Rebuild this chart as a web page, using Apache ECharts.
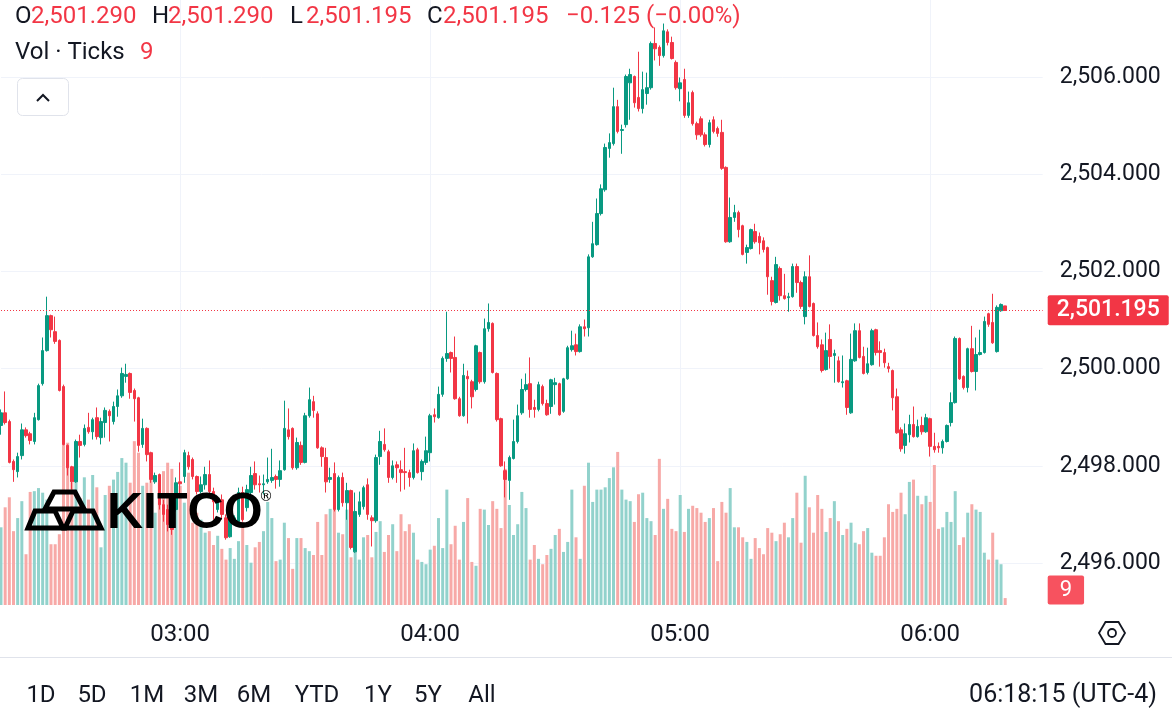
<!DOCTYPE html>
<html>
<head>
<meta charset="utf-8">
<script src="https://cdn.jsdelivr.net/npm/echarts@6/dist/echarts.min.js"></script>
<style>
html, body { margin: 0; padding: 0; background: #fff; }
#chart { width: 1172px; height: 725px; }
</style>
</head>
<body>
<div id="chart"></div>
<script>
// Gold spot, 1 minute candles, 02:17 -> 06:18 (UTC-4)
var startTime = '02:17';
var rightPad = 9; // empty minutes to the right of the last candle

var opens = [
  2498.83, 2499.09, 2498.91, 2498.09, 2497.88, 2498.21, 2498.74, 2498.66, 2498.50, 2498.95, 2499.69, 2500.37, 2501.09, 2500.76, 2500.58, 2499.63, 2498.42, 2497.98, 2497.67, 2498.50, 2498.44, 2498.79, 2498.70, 2498.99,
  2498.58, 2498.89, 2499.12, 2498.91, 2499.22, 2499.44, 2499.84, 2499.90, 2499.55, 2499.40, 2498.44, 2498.77, 2498.27, 2497.67, 2497.82, 2497.20, 2497.10, 2497.00, 2497.10, 2497.67, 2497.78, 2498.21, 2498.13, 2497.78,
  2497.47, 2497.61, 2497.82, 2497.47, 2497.10, 2497.30, 2496.93, 2496.54, 2496.85, 2496.85, 2497.45, 2497.14, 2497.45, 2497.84, 2497.63, 2497.61, 2497.67, 2497.70, 2497.78, 2497.72, 2497.92, 2498.74, 2498.77, 2497.96,
  2498.42, 2498.07, 2499.03, 2499.32, 2499.07, 2498.37, 2498.17, 2497.72, 2497.84, 2497.10, 2497.76, 2497.24, 2497.49, 2496.23, 2497.00, 2497.16, 2497.61, 2496.93, 2496.87, 2498.19, 2498.44, 2498.29, 2497.76, 2498.02,
  2497.92, 2497.88, 2497.86, 2497.76, 2498.33, 2497.88, 2498.07, 2498.27, 2499.05, 2498.99, 2499.47, 2500.21, 2500.33, 2500.23, 2499.38, 2499.03, 2499.84, 2499.73, 2499.57, 2500.33, 2499.73, 2500.82, 2500.93, 2499.90,
  2498.97, 2497.90, 2497.70, 2498.15, 2498.50, 2499.09, 2499.57, 2499.69, 2499.20, 2499.16, 2499.63, 2499.28, 2499.22, 2499.67, 2499.69, 2499.12, 2499.79, 2500.39, 2500.49, 2500.35, 2500.86, 2500.84, 2502.30, 2502.55, 2503.19,
  2503.68, 2504.53, 2504.63, 2505.39, 2504.90, 2505.02, 2505.88, 2506.01, 2505.58, 2505.35, 2505.66, 2505.78, 2506.69, 2506.61, 2506.44, 2506.93, 2506.71, 2506.30, 2505.76, 2505.95, 2505.21, 2505.68, 2505.04,
  2505.14, 2504.81, 2504.61, 2505.12, 2504.94, 2504.86, 2504.14, 2502.61, 2503.11, 2503.21, 2502.94, 2502.39, 2502.47, 2502.82, 2502.72, 2502.63, 2502.49, 2501.81, 2501.36, 2502.06, 2501.50, 2501.46, 2501.48, 2502.10,
  2501.77, 2501.07, 2501.89, 2501.34, 2500.68, 2500.49, 2499.98, 2500.60, 2500.27, 2500.16, 2499.71, 2499.75, 2499.09, 2500.16, 2500.78, 2500.25, 2499.92, 2500.08, 2500.80, 2500.37, 2500.33, 2500.04, 2499.96, 2499.42,
  2498.74, 2498.42, 2498.64, 2498.85, 2498.60, 2498.83, 2498.70, 2498.97, 2498.40, 2498.40, 2498.37, 2498.50, 2498.89, 2499.30, 2500.62, 2499.84, 2499.61, 2500.41, 2499.94, 2500.29, 2500.33, 2501.13, 2500.95, 2500.35, 2501.19, 2501.290
];
var closes = [
  2499.09, 2498.89, 2498.07, 2497.92, 2498.19, 2498.74, 2498.62, 2498.52, 2498.99, 2499.65, 2500.37, 2501.09, 2500.80, 2500.56, 2499.55, 2498.44, 2497.96, 2497.67, 2498.50, 2498.42, 2498.77, 2498.70, 2498.95, 2498.60,
  2498.91, 2499.14, 2499.03, 2499.22, 2499.44, 2499.90, 2499.88, 2499.51, 2499.38, 2498.42, 2498.77, 2498.23, 2497.72, 2497.80, 2497.20, 2497.00, 2496.79, 2496.69, 2497.65, 2497.63, 2498.27, 2497.98, 2497.78, 2497.47,
  2497.61, 2497.82, 2497.47, 2497.26, 2497.30, 2497.00, 2496.52, 2496.93, 2496.93, 2497.45, 2496.89, 2497.51, 2497.80, 2497.61, 2497.61, 2497.63, 2497.72, 2497.76, 2497.72, 2497.90, 2498.77, 2498.60, 2497.96, 2498.48,
  2498.07, 2499.03, 2499.36, 2499.14, 2498.37, 2498.19, 2497.67, 2497.76, 2497.10, 2497.76, 2497.24, 2497.49, 2496.32, 2497.06, 2497.26, 2497.55, 2497.00, 2496.87, 2498.17, 2498.50, 2498.33, 2497.76, 2498.00, 2497.96,
  2497.86, 2497.86, 2497.76, 2498.31, 2497.86, 2498.09, 2498.31, 2499.03, 2499.01, 2499.47, 2500.21, 2500.31, 2500.21, 2499.38, 2499.03, 2499.86, 2499.79, 2499.42, 2500.47, 2499.73, 2500.82, 2500.95, 2499.92, 2498.95,
  2498.00, 2497.72, 2498.17, 2498.50, 2499.03, 2499.57, 2499.67, 2499.16, 2499.16, 2499.67, 2499.28, 2499.05, 2499.77, 2499.71, 2499.05, 2499.79, 2500.43, 2500.47, 2500.35, 2500.86, 2500.82, 2502.30, 2502.57, 2503.19, 2503.70,
  2504.55, 2504.65, 2505.39, 2504.88, 2504.92, 2506.01, 2506.05, 2505.47, 2505.35, 2505.74, 2505.78, 2506.69, 2506.58, 2506.44, 2506.95, 2506.71, 2506.38, 2505.78, 2505.88, 2505.21, 2505.47, 2505.04, 2504.81,
  2504.81, 2504.61, 2505.06, 2504.88, 2504.84, 2504.12, 2502.61, 2503.11, 2503.21, 2502.86, 2502.35, 2502.49, 2502.86, 2502.61, 2502.59, 2502.45, 2501.89, 2501.38, 2502.14, 2501.50, 2501.44, 2501.48, 2502.10, 2501.77,
  2501.28, 2501.89, 2501.28, 2500.68, 2500.45, 2499.96, 2500.37, 2500.25, 2500.31, 2499.73, 2499.73, 2499.20, 2500.19, 2500.78, 2500.23, 2499.90, 2500.10, 2500.78, 2500.33, 2500.33, 2500.12, 2500.00, 2499.40, 2498.68,
  2498.35, 2498.66, 2498.85, 2498.60, 2498.81, 2498.70, 2498.99, 2498.40, 2498.33, 2498.37, 2498.50, 2498.83, 2499.30, 2500.62, 2499.79, 2499.61, 2500.41, 2499.94, 2500.29, 2500.33, 2500.97, 2500.91, 2500.53, 2501.26, 2501.32, 2501.195
];
var lows = [
  2498.64, 2498.85, 2498.05, 2497.67, 2497.76, 2498.13, 2498.58, 2498.44, 2498.44, 2498.93, 2499.65, 2500.35, 2500.64, 2500.51, 2499.53, 2498.42, 2497.80, 2497.51, 2497.65, 2498.17, 2498.40, 2498.66, 2498.54, 2498.54,
  2498.44, 2498.58, 2498.50, 2498.85, 2499.01, 2499.40, 2499.71, 2499.38, 2498.91, 2498.29, 2498.37, 2498.09, 2497.65, 2497.63, 2497.10, 2496.85, 2496.65, 2496.58, 2497.06, 2497.37, 2497.65, 2497.92, 2497.72, 2497.41,
  2497.43, 2497.51, 2497.37, 2496.89, 2497.04, 2496.89, 2496.48, 2496.52, 2496.79, 2496.81, 2496.85, 2497.06, 2497.41, 2497.51, 2497.45, 2497.41, 2497.63, 2497.65, 2497.53, 2497.57, 2497.90, 2498.54, 2497.92, 2497.92,
  2498.02, 2498.05, 2498.99, 2498.99, 2498.35, 2497.98, 2497.45, 2497.65, 2497.06, 2497.06, 2497.16, 2496.89, 2496.28, 2496.21, 2496.95, 2497.10, 2496.89, 2496.34, 2496.83, 2498.02, 2498.29, 2497.65, 2497.72, 2497.65,
  2497.47, 2497.51, 2497.57, 2497.72, 2497.84, 2497.70, 2498.02, 2498.09, 2498.89, 2498.97, 2499.42, 2500.14, 2499.92, 2499.36, 2499.01, 2499.01, 2498.87, 2499.18, 2499.53, 2499.69, 2499.69, 2500.76, 2499.90, 2498.91,
  2497.98, 2497.35, 2497.30, 2498.13, 2498.46, 2499.05, 2499.53, 2498.99, 2498.99, 2499.12, 2499.24, 2499.03, 2499.07, 2499.26, 2499.03, 2499.09, 2499.77, 2500.35, 2500.27, 2500.33, 2500.66, 2500.66, 2502.28, 2502.53, 2503.15,
  2503.64, 2504.34, 2504.59, 2504.84, 2504.42, 2504.96, 2505.12, 2505.37, 2505.29, 2505.25, 2505.43, 2505.74, 2506.34, 2506.23, 2506.40, 2506.65, 2506.36, 2505.74, 2505.50, 2505.16, 2505.16, 2505.00, 2504.71,
  2504.77, 2504.57, 2504.55, 2504.84, 2504.77, 2504.09, 2502.59, 2502.59, 2503.02, 2502.70, 2502.33, 2502.16, 2502.45, 2502.57, 2502.35, 2502.39, 2501.52, 2501.30, 2501.34, 2501.40, 2501.42, 2501.17, 2501.46, 2501.56,
  2501.23, 2500.91, 2501.26, 2500.66, 2500.41, 2499.92, 2499.96, 2500.00, 2499.71, 2499.71, 2499.61, 2499.05, 2499.07, 2500.14, 2500.21, 2499.88, 2499.88, 2500.06, 2500.27, 2500.04, 2500.02, 2499.92, 2499.14, 2498.66,
  2498.29, 2498.25, 2498.48, 2498.58, 2498.58, 2498.64, 2498.68, 2498.19, 2498.27, 2498.27, 2498.25, 2498.48, 2498.81, 2499.28, 2499.77, 2499.57, 2499.51, 2499.92, 2499.55, 2500.27, 2500.31, 2500.86, 2500.51, 2500.33, 2501.17, 2501.195
];
var highs = [
  2499.16, 2499.53, 2498.95, 2498.13, 2498.27, 2498.87, 2498.79, 2498.70, 2499.09, 2499.69, 2500.64, 2501.48, 2501.11, 2501.07, 2500.60, 2499.67, 2498.44, 2498.00, 2498.54, 2498.64, 2498.85, 2499.09, 2498.99, 2499.20,
  2498.99, 2499.20, 2499.16, 2499.32, 2499.57, 2500.02, 2500.10, 2499.92, 2499.59, 2499.42, 2498.97, 2498.79, 2498.29, 2497.86, 2497.84, 2497.30, 2497.20, 2497.14, 2497.76, 2498.07, 2498.33, 2498.29, 2498.17, 2497.80,
  2497.78, 2497.98, 2498.11, 2497.55, 2497.37, 2497.41, 2497.00, 2496.98, 2496.98, 2497.55, 2497.57, 2497.61, 2497.98, 2498.09, 2497.80, 2497.82, 2498.17, 2498.35, 2497.82, 2498.11, 2499.34, 2499.18, 2498.79, 2498.58,
  2498.50, 2499.09, 2499.61, 2499.44, 2499.12, 2498.40, 2498.37, 2497.96, 2498.07, 2497.80, 2497.86, 2497.65, 2497.51, 2497.45, 2497.47, 2497.59, 2497.74, 2496.98, 2498.23, 2498.72, 2498.77, 2498.33, 2498.11, 2498.09,
  2498.11, 2498.37, 2497.92, 2498.46, 2498.37, 2498.13, 2498.60, 2499.07, 2499.18, 2499.63, 2500.25, 2501.17, 2500.35, 2500.66, 2499.42, 2500.10, 2499.96, 2499.77, 2500.49, 2500.35, 2501.03, 2501.34, 2500.95, 2499.92,
  2498.99, 2498.09, 2498.21, 2498.95, 2499.26, 2499.79, 2499.90, 2500.23, 2499.36, 2499.73, 2499.67, 2499.36, 2499.79, 2499.81, 2499.71, 2499.81, 2500.47, 2500.78, 2500.72, 2500.91, 2501.01, 2502.35, 2503.02, 2503.50, 2503.79,
  2504.63, 2504.84, 2505.78, 2505.53, 2505.02, 2506.05, 2506.17, 2506.03, 2506.52, 2506.11, 2506.09, 2506.73, 2507.02, 2506.65, 2507.10, 2506.98, 2506.83, 2506.34, 2505.99, 2506.17, 2505.70, 2505.72, 2505.08,
  2505.19, 2504.86, 2505.12, 2505.19, 2504.98, 2505.12, 2504.16, 2503.52, 2503.37, 2503.25, 2502.96, 2502.55, 2502.88, 2502.98, 2502.80, 2502.70, 2502.51, 2501.89, 2502.30, 2502.10, 2501.95, 2501.56, 2502.16, 2502.16,
  2501.81, 2502.00, 2502.33, 2501.36, 2500.95, 2500.60, 2500.74, 2500.91, 2500.39, 2500.25, 2500.27, 2499.77, 2500.72, 2500.93, 2500.93, 2500.45, 2500.43, 2500.82, 2500.82, 2500.56, 2500.41, 2500.12, 2499.98, 2499.59,
  2498.79, 2498.87, 2499.05, 2499.22, 2498.95, 2499.01, 2499.07, 2498.99, 2498.68, 2498.48, 2498.54, 2498.85, 2499.51, 2500.66, 2500.64, 2499.86, 2500.43, 2500.88, 2500.64, 2500.80, 2501.07, 2501.15, 2501.54, 2501.30, 2501.34, 2501.290
];
// tick volume per minute
var volumes = [
  101, 127, 140, 96, 113, 135, 66, 147, 148, 152, 146, 137, 79, 79, 92, 211, 211, 159, 176, 139, 166, 137, 169, 153,
  75, 143, 155, 163, 173, 191, 185, 159, 213, 198, 155, 159, 172, 120, 159, 174, 185, 177, 159, 155, 133, 172, 107, 120,
  111, 94, 96, 78, 90, 73, 59, 74, 60, 83, 108, 78, 55, 75, 82, 96, 134, 113, 57, 59, 107, 87, 47, 87,
  87, 74, 70, 65, 108, 65, 118, 125, 124, 94, 92, 124, 62, 69, 59, 88, 91, 62, 95, 109, 69, 91, 105, 70,
  118, 96, 105, 94, 59, 56, 53, 72, 77, 113, 74, 150, 79, 103, 59, 108, 139, 56, 51, 125, 124, 104, 135, 125,
  100, 177, 130, 91, 105, 147, 126, 59, 78, 60, 53, 65, 73, 91, 99, 69, 82, 150, 88, 60, 155, 185, 134, 150, 150,
  153, 165, 179, 199, 150, 137, 135, 108, 144, 146, 113, 109, 91, 190, 125, 138, 99, 96, 143, 95, 125, 129, 126,
  120, 108, 113, 126, 57, 134, 120, 152, 101, 101, 88, 82, 60, 87, 74, 66, 100, 94, 83, 92, 107, 88, 113, 146,
  81, 168, 127, 94, 143, 125, 95, 113, 135, 109, 91, 99, 107, 81, 79, 96, 100, 68, 64, 64, 88, 131, 121, 125,
  146, 118, 160, 163, 142, 131, 142, 134, 182, 99, 101, 121, 108, 148, 78, 88, 120, 131, 124, 121, 68, 59, 94, 59, 53, 9
];
var hourLabels = ['03:00', '04:00', '05:00', '06:00'];
var ranges = ['1D', '5D', '1M', '3M', '6M', 'YTD', '1Y', '5Y', 'All'];
var clockText = '06:18:15 (UTC-4)';

var UP = '#089981', DOWN = '#F23645';
var UP_VOL = '#92D2CC', DOWN_VOL = '#F7A9A7';
var TEXT = '#131722', GRID = '#F0F3FA';
var FONT = 'Roboto';

function pad2(n) { return (n < 10 ? '0' : '') + n; }
function minuteLabel(start, k) {
  var p = start.split(':');
  var m = (+p[0]) * 60 + (+p[1]) + k;
  return pad2(Math.floor(m / 60) % 24) + ':' + pad2(m % 60);
}
function fmt(v) {
  return v.toLocaleString('en-US', { minimumFractionDigits: 3, maximumFractionDigits: 3 });
}

var times = [];
for (var k = 0; k < closes.length + rightPad; k++) times.push(minuteLabel(startTime, k));

var candles = opens.map(function (o, i) { return [o, closes[i], lows[i], highs[i]]; });
var last = closes.length - 1;
var lastClose = closes[last];
var change = lastClose - closes[last - 1];
var changePct = change / closes[last - 1] * 100;
var minus = '\u2212';
var changeText = (change < 0 ? minus : '+') + Math.abs(change).toFixed(3) +
  ' (' + (change < 0 ? minus : '+') + Math.abs(changePct).toFixed(2) + '%)';

var isHour = function (idx, val) { return hourLabels.indexOf(val) >= 0; };

var chart = echarts.init(document.getElementById('chart'));

var header = [
  { x: 15, t: 'O', c: TEXT }, { x: 31, t: fmt(opens[last]), c: DOWN },
  { x: 152, t: 'H', c: TEXT }, { x: 168, t: fmt(highs[last]), c: DOWN },
  { x: 290, t: 'L', c: TEXT }, { x: 306, t: fmt(lows[last]), c: DOWN },
  { x: 427, t: 'C', c: TEXT }, { x: 443, t: fmt(lastClose), c: DOWN },
  { x: 566, t: changeText, c: DOWN }
];
var rangeX = [41, 92, 147, 201, 254, 317, 378, 428, 482];

var graphics = [];
header.forEach(function (h) {
  graphics.push({ type: 'text', x: h.x, y: 17, z: 50,
    style: { text: h.t, fill: h.c, font: '24px ' + FONT, verticalAlign: 'middle' } });
});
graphics.push({ type: 'text', x: 15, y: 53, z: 50,
  style: { text: 'Vol \u00b7 Ticks', fill: TEXT, font: '24px ' + FONT, verticalAlign: 'middle' } });
graphics.push({ type: 'text', x: 140, y: 53, z: 50,
  style: { text: String(volumes[last]), fill: DOWN, font: '24px ' + FONT, verticalAlign: 'middle' } });
// collapse button
graphics.push({ type: 'rect', shape: { x: 17.5, y: 78.5, width: 51, height: 37, r: 5 }, z: 50,
  style: { fill: '#fff', stroke: '#E0E3EB', lineWidth: 1 } });
graphics.push({ type: 'polyline', shape: { points: [[37, 101], [43, 95], [49, 101]] }, z: 51,
  style: { stroke: TEXT, lineWidth: 2, fill: null } });
// KITCO watermark
[
  [[54, 492], [75, 492], [84, 509], [45, 509]],
  [[35, 511], [55, 511], [63, 528], [28, 528]],
  [[73, 511], [93, 511], [101, 528], [65, 528]]
].forEach(function (pts) {
  graphics.push({ type: 'polygon', shape: { points: pts }, z: 60,
    style: { fill: null, stroke: '#000', lineWidth: 5, lineJoin: 'miter' } });
});
graphics.push({ type: 'text', left: 107, top: 489, z: 60,
  style: { text: 'KITCO', fill: '#000', font: 'bold 50px "Liberation Sans"' } });
graphics.push({ type: 'text', left: 259, top: 490, z: 60,
  style: { text: '\u00ae', fill: '#000', font: '14px "DejaVu Sans"' } });
// settings icon
graphics.push({ type: 'polygon', z: 50,
  shape: { points: [[1099, 633], [1105.5, 622], [1118.5, 622], [1125, 633], [1118.5, 644], [1105.5, 644]] },
  style: { fill: null, stroke: TEXT, lineWidth: 1.8 } });
graphics.push({ type: 'circle', shape: { cx: 1112, cy: 633, r: 4 }, z: 50,
  style: { fill: null, stroke: TEXT, lineWidth: 1.8 } });
// footer
graphics.push({ type: 'line', shape: { x1: 0, y1: 657.5, x2: 1172, y2: 657.5 }, z: 50,
  style: { stroke: '#E0E3EB', lineWidth: 1 } });
ranges.forEach(function (r, i) {
  graphics.push({ type: 'text', x: rangeX[i], y: 696, z: 50,
    style: { text: r, fill: TEXT, font: '24px ' + FONT, align: 'center', verticalAlign: 'middle' } });
});
graphics.push({ type: 'text', x: 1157, y: 696, z: 50,
  style: { text: clockText, fill: TEXT, font: '25px ' + FONT, align: 'right', verticalAlign: 'middle' } });

chart.setOption({
  animation: false,
  backgroundColor: '#fff',
  textStyle: { fontFamily: FONT },
  grid: [
    // price pane: 2506 at y=77, 2494 at y=660 (candles above 2506 drawn unclipped)
    { left: 1, right: 129.3, top: 77, height: 583.2 },
    { left: 1, right: 129.3, top: 0, height: 605 }
  ],
  xAxis: [
    { type: 'category', gridIndex: 0, data: times, boundaryGap: false,
      axisLine: { show: false }, axisTick: { show: false }, axisLabel: { show: false }, splitLine: { show: false } },
    { type: 'category', gridIndex: 1, data: times, boundaryGap: false,
      axisLine: { show: false }, axisTick: { show: false },
      axisLabel: { interval: isHour, color: TEXT, fontSize: 24, fontFamily: FONT, margin: 18 },
      splitLine: { show: true, interval: isHour, lineStyle: { color: GRID, width: 1 } } }
  ],
  yAxis: [
    { type: 'value', gridIndex: 0, position: 'right', min: 2494, max: 2506, interval: 2,
      axisLine: { show: false }, axisTick: { show: false },
      axisLabel: { color: TEXT, fontSize: 23, fontFamily: FONT, margin: 17,
        showMinLabel: false, showMaxLabel: true, formatter: fmt },
      splitLine: { show: true, showMinLine: false, showMaxLine: true, lineStyle: { color: GRID, width: 1 } } },
    { type: 'value', gridIndex: 1, min: 0, max: 786.5,
      axisLine: { show: false }, axisTick: { show: false }, axisLabel: { show: false }, splitLine: { show: false } }
  ],
  graphic: graphics,
  series: [
    {
      type: 'bar', name: 'Vol', xAxisIndex: 1, yAxisIndex: 1, data: volumes, barWidth: 3, z: 1,
      clip: false, silent: true,
      itemStyle: { color: function (p) { return closes[p.dataIndex] >= opens[p.dataIndex] ? UP_VOL : DOWN_VOL; } },
      markLine: {
        silent: true, symbol: 'none', animation: false,
        lineStyle: { color: 'rgba(0,0,0,0)', width: 1, type: 'solid' },
        data: [{ yAxis: volumes[last] }],
        label: { show: true, position: 'end', distance: 5, offset: [0, -8],
          formatter: String(volumes[last]), color: '#fff', fontSize: 22, fontFamily: FONT,
          backgroundColor: '#F7525F', padding: [4, 12, 3, 12], borderRadius: 2 }
      }
    },
    {
      type: 'candlestick', name: 'XAU', xAxisIndex: 0, yAxisIndex: 0, data: candles, barWidth: 3, z: 3,
      clip: false,
      itemStyle: { color: UP, color0: DOWN, borderColor: UP, borderColor0: DOWN, borderWidth: 1 },
      markLine: {
        silent: true, symbol: 'none', animation: false,
        lineStyle: { color: DOWN, type: [1, 2], width: 1 },
        data: [{ yAxis: lastClose }],
        label: { show: true, position: 'end', distance: 5,
          formatter: fmt(lastClose), color: '#fff', fontSize: 23, fontFamily: FONT, fontWeight: 500,
          backgroundColor: DOWN, padding: [4, 9, 3, 9], borderRadius: 2 }
      }
    }
  ]
});
</script>
</body>
</html>
